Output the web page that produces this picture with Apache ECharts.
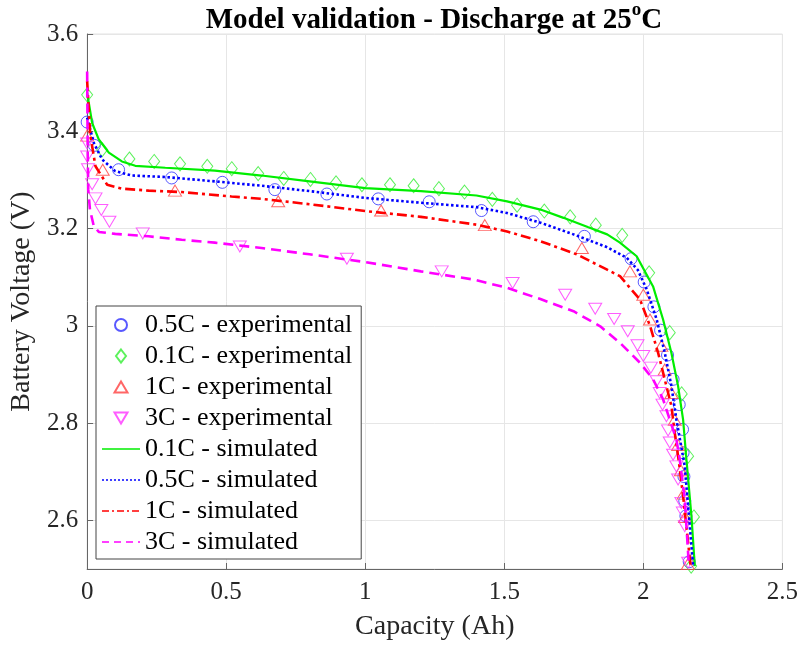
<!DOCTYPE html>
<html>
<head>
<meta charset="utf-8">
<script src="https://cdn.jsdelivr.net/npm/echarts@6/dist/echarts.min.js"></script>
<style>
html,body{margin:0;padding:0;background:#fff;}
#chart{width:801px;height:648px;}
</style>
</head>
<body>
<div id="chart"></div>
<script>
// ---- Data ----
const xTicks = [0, 0.5, 1, 1.5, 2, 2.5];
const yTicks = [2.6, 2.8, 3, 3.2, 3.4, 3.6];

// Experimental, 0.5C (circles)
const exp05X = [0, 0.026, 0.113, 0.304, 0.486, 0.675, 0.862, 1.047, 1.230, 1.418, 1.604, 1.788, 1.956, 2.003, 2.038, 2.062, 2.087, 2.107, 2.129, 2.141, 2.143, 2.146, 2.149, 2.153, 2.165];
const exp05Y = [3.419, 3.371, 3.321, 3.304, 3.295, 3.280, 3.271, 3.261, 3.255, 3.237, 3.214, 3.184, 3.138, 3.090, 3.039, 2.991, 2.940, 2.890, 2.838, 2.787, 2.739, 2.690, 2.640, 2.609, 2.515];

// Experimental, 0.1C (diamonds)
const exp01X = [0, 0.054, 0.152, 0.241, 0.334, 0.432, 0.520, 0.615, 0.707, 0.803, 0.895, 0.988, 1.089, 1.174, 1.265, 1.357, 1.457, 1.546, 1.644, 1.737, 1.829, 1.924, 2.021, 2.095, 2.138, 2.161, 2.182, 2.172];
const exp01Y = [3.475, 3.362, 3.343, 3.338, 3.333, 3.328, 3.323, 3.313, 3.303, 3.301, 3.294, 3.290, 3.290, 3.288, 3.282, 3.275, 3.260, 3.248, 3.236, 3.224, 3.207, 3.186, 3.109, 2.986, 2.860, 2.732, 2.607, 2.506];

// Experimental, 1C (triangles up)
const exp1X = [0, 0.056, 0.316, 0.687, 1.057, 1.430, 1.779, 1.952, 2.000, 2.024, 2.065, 2.077, 2.101, 2.113, 2.125, 2.135, 2.145, 2.150, 2.160];
const exp1Y = [3.391, 3.321, 3.278, 3.256, 3.237, 3.207, 3.160, 3.112, 3.064, 3.013, 2.959, 2.910, 2.862, 2.807, 2.755, 2.703, 2.655, 2.607, 2.510];

// Experimental, 3C (triangles down)
const exp3X = [0, 0, 0.003, 0.018, 0.030, 0.051, 0.080, 0.200, 0.549, 0.934, 1.275, 1.530, 1.719, 1.827, 1.895, 1.944, 1.979, 2.000, 2.027, 2.048, 2.059, 2.069, 2.083, 2.089, 2.095, 2.107, 2.119, 2.125, 2.137, 2.142, 2.149, 2.161];
const exp3Y = [3.375, 3.348, 3.322, 3.291, 3.262, 3.238, 3.214, 3.190, 3.163, 3.138, 3.112, 3.088, 3.064, 3.035, 3.014, 2.989, 2.960, 2.938, 2.914, 2.886, 2.862, 2.838, 2.814, 2.785, 2.760, 2.735, 2.711, 2.684, 2.636, 2.616, 2.588, 2.513];

// Simulated, 0.1C
const sim01X = [0, 0.018, 0.042, 0.078, 0.125, 0.173, 0.281, 0.459, 0.627, 0.800, 1.000, 1.200, 1.400, 1.510, 1.630, 1.713, 1.800, 1.870, 1.916, 1.976, 2.035, 2.071, 2.101, 2.125, 2.143, 2.155, 2.173, 2.185];
const sim01Y = [3.479, 3.417, 3.383, 3.356, 3.338, 3.329, 3.325, 3.319, 3.309, 3.297, 3.283, 3.277, 3.268, 3.256, 3.239, 3.222, 3.203, 3.188, 3.171, 3.143, 3.081, 3.013, 2.944, 2.876, 2.807, 2.725, 2.609, 2.506];

// Simulated, 0.5C
const sim05X = [0, 0.024, 0.054, 0.101, 0.161, 0.281, 0.459, 0.627, 0.800, 1.000, 1.200, 1.400, 1.510, 1.630, 1.749, 1.868, 1.940, 1.980, 2.012, 2.048, 2.077, 2.101, 2.119, 2.149, 2.164, 2.179];
const sim05Y = [3.428, 3.376, 3.342, 3.318, 3.309, 3.306, 3.297, 3.288, 3.277, 3.263, 3.253, 3.244, 3.232, 3.212, 3.188, 3.162, 3.140, 3.115, 3.075, 3.013, 2.945, 2.876, 2.807, 2.711, 2.609, 2.506];

// Simulated, 1C
const sim1X = [0, 0.011, 0.030, 0.072, 0.125, 0.221, 0.340, 0.519, 0.627, 0.800, 1.000, 1.200, 1.400, 1.510, 1.630, 1.760, 1.868, 1.916, 1.988, 2.024, 2.053, 2.077, 2.101, 2.113, 2.128, 2.145, 2.160, 2.170];
const sim1Y = [3.503, 3.393, 3.328, 3.290, 3.282, 3.278, 3.275, 3.266, 3.261, 3.250, 3.236, 3.224, 3.208, 3.194, 3.174, 3.147, 3.116, 3.102, 3.054, 3.000, 2.945, 2.890, 2.835, 2.780, 2.720, 2.640, 2.560, 2.506];

// Simulated, 3C
const sim3X = [0, 0.002, 0.004, 0.010, 0.024, 0.042, 0.101, 0.221, 0.340, 0.459, 0.627, 0.800, 1.000, 1.200, 1.391, 1.510, 1.630, 1.749, 1.845, 1.916, 1.988, 2.035, 2.071, 2.095, 2.119, 2.131, 2.149, 2.164];
const sim3Y = [3.523, 3.360, 3.280, 3.239, 3.205, 3.193, 3.189, 3.184, 3.177, 3.171, 3.160, 3.147, 3.131, 3.112, 3.095, 3.078, 3.055, 3.030, 2.999, 2.965, 2.924, 2.890, 2.849, 2.807, 2.766, 2.725, 2.643, 2.506];

const seriesNames = [
  '0.5C - experimental', '0.1C - experimental', '1C - experimental', '3C - experimental',
  '0.1C - simulated', '0.5C - simulated', '1C - simulated', '3C - simulated'
];

function pairs(xs, ys) { return xs.map((x, i) => [x, ys[i]]); }

const serif = '"Liberation Serif", "DejaVu Serif", serif';
const axisColor = '#262626';

// Legend icons padded to a 38x14 box so that they keep their shape
const BOX = 'M0,0M38,14';
const iconCircle = 'path://' + BOX + 'M25,7A6,6,0,1,1,13,7A6,6,0,1,1,25,7Z';
const iconDiamond = 'path://' + BOX + 'M19,0.5L24,7L19,13.5L14,7Z';
const iconTriUp = 'path://' + BOX + 'M19,1.5L25.5,12.5L12.5,12.5Z';
const iconTriDown = 'path://' + BOX + 'M12.5,1.5L25.5,1.5L19,12.5Z';
const iconLine = 'path://' + BOX + 'M0,7L38,7';

const chart = echarts.init(document.getElementById('chart'), null, {renderer: 'canvas'});

function scatter(name, xs, ys, symbol, size, color) {
  return {
    name: name, type: 'scatter', data: pairs(xs, ys),
    symbol: symbol, symbolSize: size,
    itemStyle: {color: 'rgba(255,255,255,0)', borderColor: color, borderWidth: 1},
    emphasis: {disabled: true}, silent: true, z: 2
  };
}
function line(name, xs, ys, color, width, type) {
  return {
    name: name, type: 'line', data: pairs(xs, ys),
    symbol: 'none', showSymbol: false,
    lineStyle: {color: color, width: width, type: type},
    itemStyle: {color: color},
    emphasis: {disabled: true}, silent: true, z: 3
  };
}

const lineColors = ['#00ee00', '#0000ff', '#ff0000', '#ff00ff'];
const lineWidths = [2.2, 2.6, 2.6, 2.6];
const lineTypes = ['solid', [2.5, 2.5], [10, 4, 3, 4], [10, 6]];
const legendTypes = ['solid', [2, 2], [7, 3, 2, 3], [7, 5]];

const legendData = [
  {name: seriesNames[0], icon: iconCircle},
  {name: seriesNames[1], icon: iconDiamond},
  {name: seriesNames[2], icon: iconTriUp},
  {name: seriesNames[3], icon: iconTriDown}
].concat([4, 5, 6, 7].map((k, i) => ({
  name: seriesNames[k], icon: iconLine,
  itemStyle: {color: 'rgba(255,255,255,0)', borderColor: lineColors[i], borderWidth: 1.6, borderType: legendTypes[i]}
})));

const option = {
  animation: false,
  backgroundColor: '#ffffff',
  grid: {left: 85, right: 18, top: 34, bottom: 79, show: true, borderColor: '#e3e3e3', borderWidth: 1},
  xAxis: {
    type: 'value', min: xTicks[0], max: xTicks[xTicks.length - 1], interval: 0.5,
    name: 'Capacity (Ah)', nameLocation: 'middle', nameGap: 44,
    nameTextStyle: {fontFamily: serif, fontSize: 28, color: axisColor},
    axisLine: {show: true, lineStyle: {color: '#666', width: 1}},
    axisTick: {show: true, inside: true, length: 6, lineStyle: {color: '#666'}},
    axisLabel: {fontFamily: serif, fontSize: 25, color: axisColor, margin: 11},
    splitLine: {show: true, lineStyle: {color: '#e6e6e6', width: 1}}
  },
  yAxis: {
    type: 'value', min: 2.5, max: yTicks[yTicks.length - 1], splitNumber: 5,
    name: 'Battery Voltage (V)', nameLocation: 'middle', nameGap: 43,
    nameTextStyle: {fontFamily: serif, fontSize: 28, color: axisColor},
    axisLine: {show: true, lineStyle: {color: '#666', width: 1}},
    axisTick: {show: true, inside: true, length: 6, lineStyle: {color: '#666'}},
    axisLabel: {
      fontFamily: serif, fontSize: 25, color: axisColor, margin: 9,
      formatter: function (v) {
        for (const t of yTicks) { if (Math.abs(v - t) < 1e-6) return String(t); }
        return '';
      }
    },
    splitLine: {show: true, lineStyle: {color: '#e6e6e6', width: 1}}
  },
  legend: {
    show: true, orient: 'vertical', left: 96, top: 306,
    padding: [6, 9, 4, 5], itemGap: 5, itemWidth: 38, itemHeight: 14,
    backgroundColor: '#ffffff', borderColor: '#444', borderWidth: 1, borderRadius: 0,
    textStyle: {fontFamily: serif, fontSize: 26, color: '#000', lineHeight: 26},
    data: legendData,
    selectedMode: false
  },
  graphic: [{
    type: 'text', x: 434, y: 18, silent: true,
    style: {
      text: '{a|Model validation - Discharge at 25}{s|o}{a|C}',
      align: 'center', verticalAlign: 'middle', textAlign: 'center', textVerticalAlign: 'middle',
      rich: {
        a: {fontFamily: serif, fontSize: 29, fontWeight: 'bold', fill: '#000', color: '#000', lineHeight: 34, verticalAlign: 'bottom'},
        s: {fontFamily: serif, fontSize: 19, fontWeight: 'bold', fill: '#000', color: '#000', lineHeight: 17, verticalAlign: 'top'}
      }
    }
  }],
  series: [
    scatter(seriesNames[0], exp05X, exp05Y, 'circle', 12, '#3030ff'),
    scatter(seriesNames[1], exp01X, exp01Y, 'diamond', [11, 14], '#33ee33'),
    scatter(seriesNames[2], exp1X, exp1Y, 'triangle', [13, 11], '#ff4040'),
    scatter(seriesNames[3], exp3X, exp3Y, 'path://M0,0L20,0L10,17Z', [13, 11], '#ff33ff'),
    line(seriesNames[4], sim01X, sim01Y, lineColors[0], lineWidths[0], lineTypes[0]),
    line(seriesNames[5], sim05X, sim05Y, lineColors[1], lineWidths[1], lineTypes[1]),
    line(seriesNames[6], sim1X, sim1Y, lineColors[2], lineWidths[2], lineTypes[2]),
    line(seriesNames[7], sim3X, sim3Y, lineColors[3], lineWidths[3], lineTypes[3])
  ]
};
chart.setOption(option);
</script>
</body>
</html>
